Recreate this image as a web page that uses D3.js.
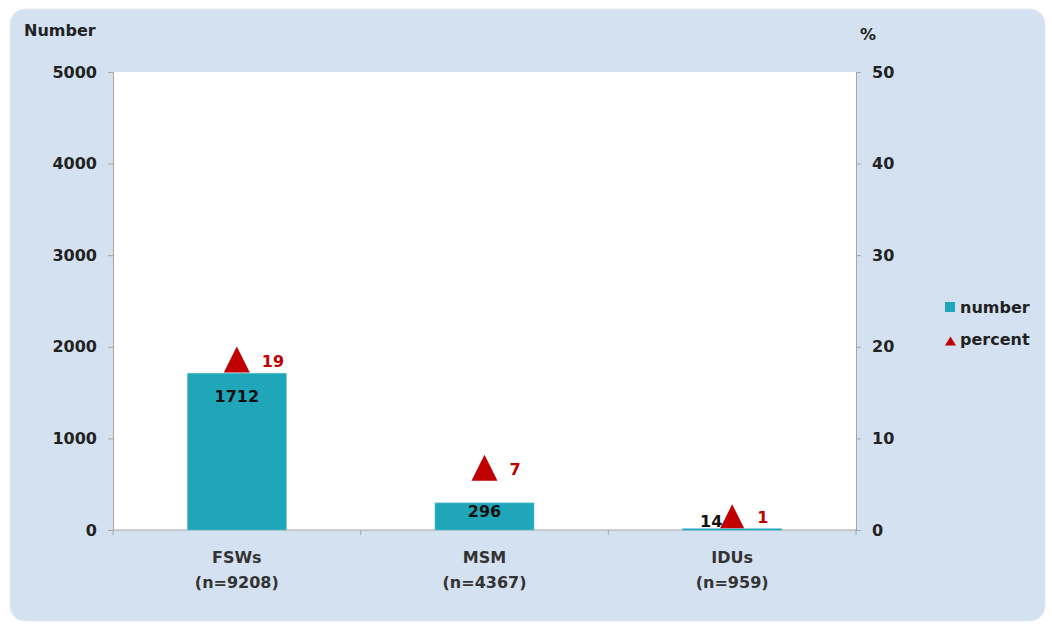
<!DOCTYPE html>
<html><head><meta charset="utf-8">
<script src="https://cdn.jsdelivr.net/npm/d3@7"></script>
<style>body{margin:0;background:#fff}svg{display:block}text{font-family:"DejaVu Sans",Arial,sans-serif;font-weight:bold}</style>
</head><body><svg id="c" width="1052" height="627"></svg>
<script>
const categories = ["FSWs", "MSM", "IDUs"];
const sampleSizes = ["(n=9208)", "(n=4367)", "(n=959)"];
const numbers = [1712, 296, 14];
const percents = [18.6, 6.8, 1.5];
const percentLabels = ["19", "7", "1"];
const leftTicks = [0, 1000, 2000, 3000, 4000, 5000];
const rightTicks = [0, 10, 20, 30, 40, 50];
const legendLabels = ["number", "percent"];

const svg = d3.select("#c");
const teal = "#1fa7b9", red = "#c00000", axisCol = "#a6a6a6", txt = "#222";
const FONT = "DejaVu Sans, Arial, sans-serif";
const L = 113, R = 856, T = 72, B = 530;

svg.append("rect").attr("x", 10).attr("y", 9).attr("width", 1035).attr("height", 612)
  .attr("rx", 15).attr("fill", "#d4e1f0").attr("stroke", "#e4ecf5").attr("stroke-width", 1);
svg.append("rect").attr("x", L).attr("y", T).attr("width", R - L).attr("height", B - T).attr("fill", "#fff");

const x = d3.scaleBand().domain(categories).range([L, R]).paddingInner(0).paddingOuter(0);
const yL = d3.scaleLinear().domain([0, 5000]).range([B, T]);
const yR = d3.scaleLinear().domain([0, 50]).range([B, T]);

// axes
const gl = svg.append("g").attr("transform", `translate(${L},0)`)
  .call(d3.axisLeft(yL).tickValues(leftTicks).tickSize(5).tickPadding(11).tickFormat(d3.format("d")));
const gr = svg.append("g").attr("transform", `translate(${R},0)`)
  .call(d3.axisRight(yR).tickValues(rightTicks).tickSize(5).tickPadding(11).tickFormat(d3.format("d")));
[gl, gr].forEach(g => {
  g.select(".domain").attr("stroke", axisCol);
  g.selectAll(".tick line").attr("stroke", axisCol);
  g.selectAll(".tick text").attr("fill", txt).style("font-size", "16px").style("font-weight", "bold")
    .style("font-family", FONT);
});
// bottom axis
svg.append("line").attr("x1", L).attr("x2", R).attr("y1", B).attr("y2", B).attr("stroke", axisCol);
const bounds = [L].concat(categories.map(c => x(c) + x.bandwidth()));
svg.selectAll(".bt").data(bounds).join("line").attr("x1", d => d).attr("x2", d => d)
  .attr("y1", B).attr("y2", B + 5).attr("stroke", axisCol);

// category labels
const cx = d => x(d) + x.bandwidth() / 2;
const cl = svg.selectAll(".cl").data(categories).join("text")
  .attr("text-anchor", "middle").attr("fill", "#333").style("font-size", "16px");
cl.append("tspan").attr("x", cx).attr("y", 563).text(d => d);
cl.append("tspan").attr("x", cx).attr("y", 588).text((d, i) => sampleSizes[i]);

// bars
const bw = x.bandwidth() * 0.4;
svg.selectAll(".bar").data(numbers).join("rect")
  .attr("x", (d, i) => cx(categories[i]) - bw / 2)
  .attr("y", d => yL(d)).attr("width", bw).attr("height", d => Math.max(1.5, B - yL(d)))
  .attr("fill", teal).attr("stroke", "#6cc6d2").attr("stroke-width", 0.6);

// bar labels
svg.selectAll(".bl").data(numbers).join("text")
  .attr("x", (d, i) => cx(categories[i]) + ((B - yL(d)) < 5 ? -21 : 0))
  .attr("y", d => {
    const h = B - yL(d);
    if (h < 5) return B - 3;
    return Math.min(yL(d) + 29, B - 13);
  })
  .attr("text-anchor", "middle").attr("fill", "#111").style("font-size", "16px").text(d => d);

// triangles (bounding box centred on the value)
const triPath = (w, h) => `M0,${-h / 2}L${w / 2},${h / 2}L${-w / 2},${h / 2}Z`;
svg.selectAll(".tri").data(percents).join("path")
  .attr("d", d => d < 3 ? triPath(24, 24) : triPath(26, 26))
  .attr("transform", (d, i) => `translate(${cx(categories[i])},${yR(d)})`)
  .attr("fill", red);
svg.selectAll(".pl").data(percents).join("text")
  .attr("x", (d, i) => cx(categories[i]) + 25)
  .attr("y", d => yR(d) + 7)
  .attr("fill", red).style("font-size", "16px").text((d, i) => percentLabels[i]);

// axis titles
svg.append("text").attr("x", 24).attr("y", 36).attr("fill", txt).style("font-size", "16px").text("Number");
svg.append("text").attr("x", 860).attr("y", 40).attr("fill", txt).style("font-size", "16px").text("%");

// legend
svg.append("rect").attr("x", 945).attr("y", 302).attr("width", 10).attr("height", 10).attr("fill", teal);
svg.append("path").attr("d", triPath(11, 9))
  .attr("transform", "translate(950.5,341)").attr("fill", red);
svg.selectAll(".lg").data(legendLabels).join("text")
  .attr("x", 960).attr("y", (d, i) => 313 + i * 32).attr("fill", txt).style("font-size", "16px").text(d => d);
</script></body></html>
